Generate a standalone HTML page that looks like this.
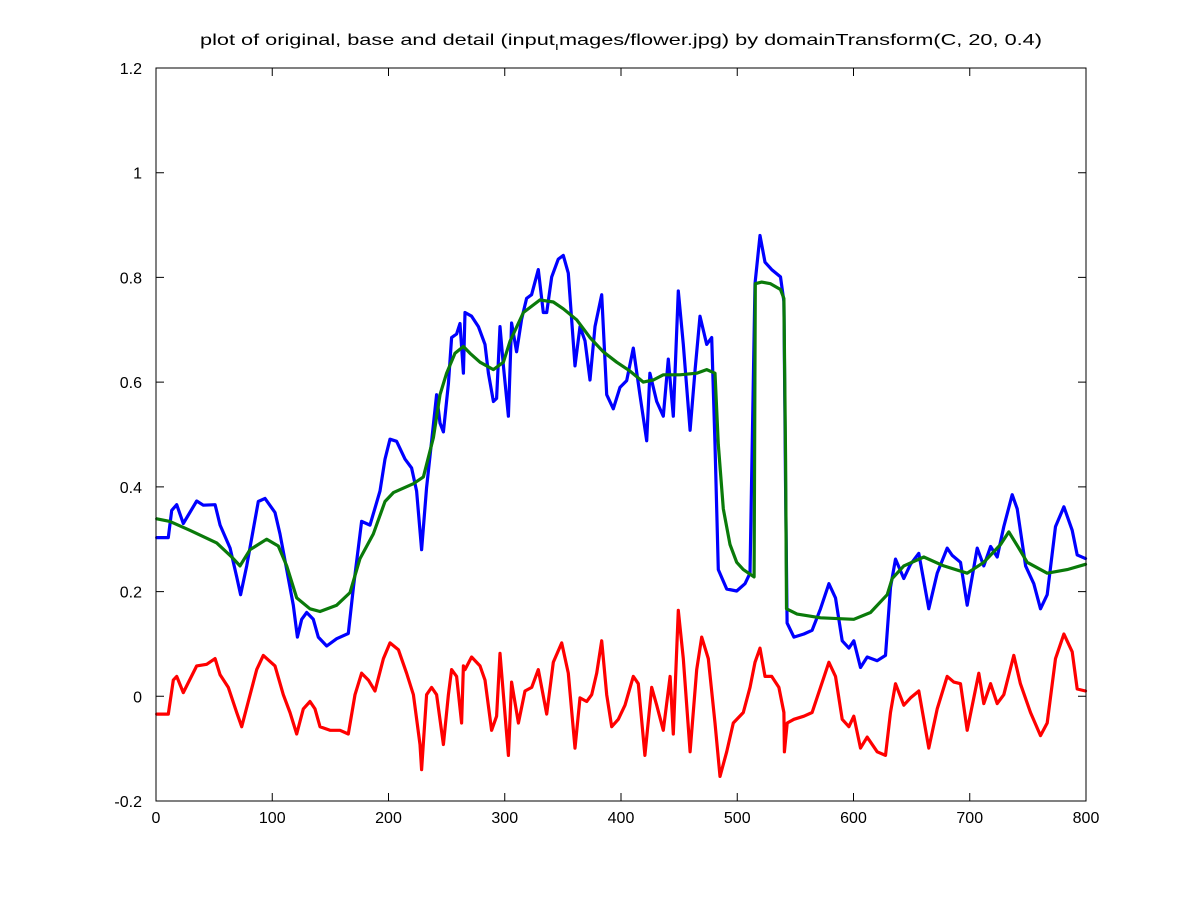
<!DOCTYPE html>
<html><head><meta charset="utf-8"><style>
html,body{margin:0;padding:0;background:#fff;}
svg{display:block;font-family:"Liberation Sans",sans-serif;}
</style></head><body>
<svg id="chart" width="1200" height="900" viewBox="0 0 1200 900" xmlns="http://www.w3.org/2000/svg">
<rect x="0" y="0" width="1200" height="900" fill="#fff"/>
<text x="621" y="45" font-size="16" text-anchor="middle" textLength="842" lengthAdjust="spacingAndGlyphs">plot of original, base and detail (input<tspan font-size="11" dy="5">ı</tspan><tspan dy="-5">mages/flower.jpg) by domainTransform(C, 20, 0.4)</tspan></text>
<g id="plot"></g>
<g id="axes"></g>
</svg>
<script>
const xTicks=[0,100,200,300,400,500,600,700,800];
const yTicks=[-0.2,0,0.2,0.4,0.6,0.8,1,1.2];
const yTickLabels=["-0.2","0","0.2","0.4","0.6","0.8","1","1.2"];

const originalX=[0.6,10.6,13.5,17.8,23.5,35.0,40.7,50.8,55.1,63.7,69.4,72.8,78.0,88.0,93.8,102.4,106.7,112.4,118.1,121.6,125.3,129.6,135.3,139.6,146.8,155.4,165.4,169.8,176.9,184.1,192.7,197.0,201.3,207.0,214.2,219.9,224.2,228.5,232.8,237.1,241.4,244.3,247.2,251.5,254.3,258.6,261.5,264.4,265.8,271.5,277.3,283.0,285.9,290.2,293.0,295.9,298.8,303.1,305.9,310.2,314.5,318.8,323.1,328.9,333.2,336.1,340.4,346.1,350.4,354.7,360.4,364.7,369.0,373.3,377.6,383.4,387.7,393.4,399.1,404.9,410.6,416.3,422.1,424.9,430.7,436.4,440.7,445.0,449.3,453.6,459.4,463.7,468.0,473.7,478.0,480.9,483.7,490.9,499.5,506.7,511.0,515.3,519.6,523.9,529.6,537.2,540.1,541.5,542.9,548.7,557.3,564.4,571.6,578.8,584.5,590.3,596.0,600.3,606.0,611.8,620.4,627.5,631.8,636.1,643.3,649.0,656.2,664.8,672.0,680.6,684.9,692.0,697.8,706.4,712.1,717.9,723.6,729.3,736.5,740.8,748.0,755.1,760.9,766.6,773.8,781.0,788.1,792.4,799.6];
const originalY=[0.303,0.303,0.355,0.366,0.330,0.373,0.365,0.366,0.327,0.283,0.228,0.194,0.249,0.372,0.378,0.351,0.310,0.242,0.174,0.113,0.147,0.160,0.147,0.113,0.096,0.110,0.120,0.208,0.334,0.327,0.392,0.453,0.491,0.487,0.453,0.436,0.392,0.280,0.399,0.487,0.576,0.522,0.505,0.597,0.685,0.692,0.712,0.617,0.733,0.726,0.706,0.672,0.617,0.563,0.569,0.706,0.631,0.535,0.713,0.658,0.720,0.760,0.767,0.815,0.733,0.733,0.801,0.835,0.842,0.808,0.631,0.706,0.679,0.604,0.706,0.767,0.576,0.549,0.590,0.603,0.665,0.576,0.488,0.617,0.563,0.535,0.644,0.535,0.774,0.672,0.508,0.624,0.726,0.672,0.685,0.481,0.242,0.205,0.201,0.215,0.235,0.788,0.880,0.829,0.815,0.801,0.754,0.413,0.140,0.113,0.119,0.126,0.167,0.215,0.188,0.106,0.092,0.106,0.055,0.075,0.068,0.078,0.208,0.262,0.225,0.252,0.273,0.167,0.235,0.283,0.269,0.256,0.174,0.283,0.249,0.286,0.266,0.324,0.385,0.358,0.249,0.215,0.167,0.194,0.324,0.362,0.317,0.270,0.263];

const baseX=[0.6,12.0,29.2,52.2,65.1,72.3,80.9,95.2,105.2,112.4,121.0,132.5,141.1,155.4,166.9,175.5,186.9,197.0,204.2,221.4,230.0,238.6,244.3,250.0,257.2,264.4,270.1,278.7,290.2,298.8,304.5,316.0,330.3,341.8,350.4,361.9,373.3,384.8,396.3,407.7,419.2,427.8,436.4,450.7,465.1,473.7,480.9,483.7,488.0,493.8,499.5,505.2,514.5,515.5,521.0,528.6,537.2,540.1,541.6,542.4,551.5,571.6,600.3,614.6,629.0,633.3,643.3,660.5,677.7,697.8,712.1,726.5,733.6,742.2,749.4,766.6,783.8,799.6];
const baseY=[0.339,0.334,0.317,0.293,0.266,0.249,0.280,0.300,0.287,0.249,0.188,0.167,0.162,0.174,0.198,0.263,0.310,0.372,0.389,0.406,0.419,0.494,0.576,0.617,0.655,0.668,0.655,0.638,0.624,0.638,0.678,0.733,0.757,0.753,0.740,0.719,0.685,0.658,0.638,0.621,0.600,0.604,0.614,0.614,0.617,0.624,0.617,0.481,0.358,0.290,0.256,0.242,0.228,0.788,0.791,0.788,0.777,0.760,0.45,0.167,0.157,0.150,0.147,0.160,0.194,0.225,0.249,0.266,0.249,0.235,0.256,0.290,0.314,0.283,0.256,0.235,0.242,0.252];

const detailX=[0.6,10.6,14.9,17.8,23.5,35.0,43.6,50.8,55.1,62.2,69.4,73.7,79.4,86.6,92.3,102.4,109.5,115.3,121.0,126.7,132.5,136.8,141.1,149.7,158.3,165.4,171.2,176.9,182.7,188.4,195.6,201.3,208.5,215.6,221.4,227.1,228.5,232.8,237.1,241.4,247.2,251.5,254.3,258.6,262.9,264.4,265.8,271.5,278.7,283.0,288.7,293.0,295.9,298.8,303.1,305.9,311.7,317.4,323.2,328.9,336.1,341.8,349.0,354.7,360.4,364.7,370.5,374.8,379.1,383.4,387.7,392.0,397.7,403.4,410.6,414.9,420.6,426.4,430.7,436.4,442.2,445.0,449.3,453.6,459.4,465.1,469.4,475.1,480.9,485.2,490.9,496.6,505.2,511.0,515.3,519.6,523.9,529.6,535.8,540.1,540.6,543.0,548.7,557.3,564.4,571.6,578.8,584.5,590.3,596.0,600.3,606.0,611.8,620.4,627.5,631.8,636.1,643.3,649.0,656.2,664.8,672.0,680.6,686.3,692.0,697.8,707.8,712.1,717.9,723.6,729.3,737.9,743.6,752.3,760.9,766.6,773.8,781.0,788.1,792.4,799.6];
const detailY=[-0.034,-0.034,0.031,0.038,0.007,0.058,0.061,0.072,0.041,0.017,-0.031,-0.058,-0.010,0.051,0.078,0.058,0.003,-0.031,-0.072,-0.024,-0.010,-0.024,-0.058,-0.065,-0.065,-0.072,0.003,0.044,0.031,0.010,0.072,0.102,0.089,0.044,0.003,-0.092,-0.140,0.003,0.017,0.003,-0.092,0.003,0.051,0.038,-0.051,0.058,0.051,0.075,0.058,0.031,-0.065,-0.038,0.082,0.003,-0.113,0.027,-0.051,0.010,0.017,0.051,-0.034,0.065,0.102,0.044,-0.099,-0.003,-0.010,0.003,0.044,0.106,0.003,-0.058,-0.044,-0.017,0.038,0.024,-0.113,0.017,-0.017,-0.065,0.038,-0.072,0.164,0.072,-0.106,0.051,0.113,0.072,-0.051,-0.153,-0.106,-0.051,-0.031,0.017,0.065,0.092,0.038,0.038,0.017,-0.031,-0.106,-0.051,-0.044,-0.038,-0.031,0.017,0.065,0.038,-0.044,-0.058,-0.038,-0.099,-0.078,-0.106,-0.113,-0.031,0.024,-0.017,-0.003,0.010,-0.099,-0.024,0.038,0.027,0.024,-0.065,0.044,-0.014,0.024,-0.014,0.003,0.078,0.024,-0.031,-0.075,-0.051,0.072,0.119,0.085,0.014,0.010];

const X0=156,X1=1086,Y0=801,Y1=68;
const xMin=0,xMax=800,yMin=-0.2,yMax=1.2;
function sx(v){return X0+(v-xMin)/(xMax-xMin)*(X1-X0);}
function sy(v){return Y0-(v-yMin)/(yMax-yMin)*(Y0-Y1);}
const NS="http://www.w3.org/2000/svg";
const plot=document.getElementById('plot');
const axes=document.getElementById('axes');
function mk(tag,attrs,parent){const e=document.createElementNS(NS,tag);for(const k in attrs)e.setAttribute(k,attrs[k]);parent.appendChild(e);return e;}
function drawLine(xs,ys,color,name){
  let d='';
  for(let i=0;i<xs.length;i++){d+=(i?'L':'M')+sx(xs[i]).toFixed(1)+','+sy(ys[i]).toFixed(1);}
  const p=mk('path',{d:d,fill:'none',stroke:color,'stroke-width':3.2,'stroke-linejoin':'round','stroke-linecap':'round'},plot);
  
  
}
drawLine(originalX,originalY,'#0000ff','original-line');
drawLine(detailX,detailY,'#ff0000','detail-line');
drawLine(baseX,baseY,'#0a7a0a','base-line');

const box=mk('rect',{x:X0,y:Y1,width:X1-X0,height:Y0-Y1,fill:'none',stroke:'#000','stroke-width':1},axes);


xTicks.forEach(function(t){
  const x=sx(t);
  const a=mk('path',{d:'M'+x+','+Y0+'v-8M'+x+','+Y1+'v8',stroke:'#000','stroke-width':1},axes);
  
  
  const l=mk('text',{x:x,y:Y0+22,'font-size':16,'text-anchor':'middle'},axes);
  l.textContent=String(t);
  
  
});
yTicks.forEach(function(t,i){
  const y=sy(t);
  const a=mk('path',{d:'M'+X0+','+y+'h8M'+X1+','+y+'h-8',stroke:'#000','stroke-width':1},axes);
  
  
  const l=mk('text',{x:X0-14,y:y+6,'font-size':16,'text-anchor':'end'},axes);
  l.textContent=yTickLabels[i];
  
  
});
</script>
</body></html>
